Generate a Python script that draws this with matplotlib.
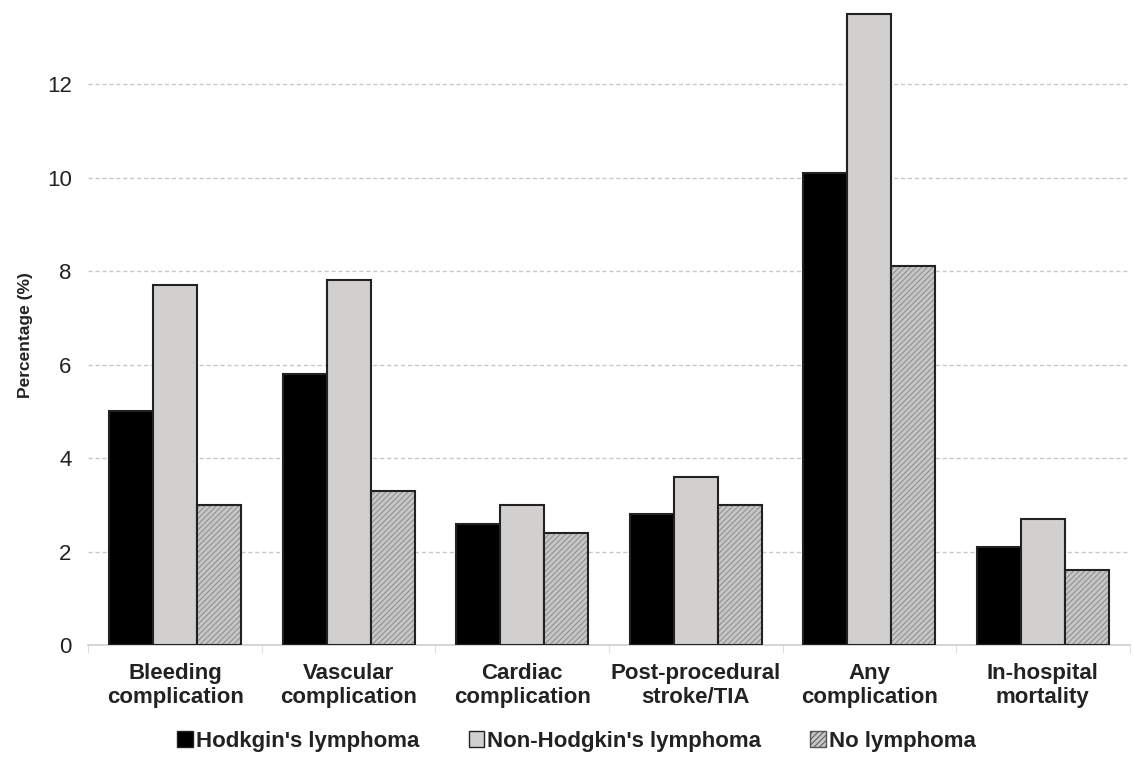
import numpy as np
import matplotlib
matplotlib.use("Agg")
import matplotlib.pyplot as plt
from matplotlib.patches import Patch

plt.rcParams['font.family'] = ['Liberation Sans', 'DejaVu Sans']
plt.rcParams['hatch.linewidth'] = 0.7

# outcome categories and rates (%) per group
categories = ["Bleeding\ncomplication", "Vascular\ncomplication", "Cardiac\ncomplication",
              "Post-procedural\nstroke/TIA", "Any\ncomplication", "In-hospital\nmortality"]
hodgkin = [5.0, 5.8, 2.6, 2.8, 10.1, 2.1]
non_hodgkin = [7.7, 7.8, 3.0, 3.6, 13.5, 2.7]
no_lymphoma = [3.0, 3.3, 2.4, 3.0, 8.1, 1.6]
series_names = ["Hodkgin's lymphoma", "Non-Hodgkin's lymphoma", "No lymphoma"]
yticks = [0, 2, 4, 6, 8, 10, 12]

fig = plt.figure(figsize=(11.33, 7.58), dpi=100)
ax = fig.add_axes([0.078, 0.149, 0.919, 0.845])

x = np.arange(len(categories))
w = 0.253

ax.bar(x - w, hodgkin, w, color="black", edgecolor="#222222", linewidth=1.5, zorder=3)
ax.bar(x, non_hodgkin, w, color="#d2cfcf", edgecolor="#222222", linewidth=1.5, zorder=3)
# hatched bars: hatch layer first, then the dark outline
ax.bar(x + w, no_lymphoma, w, color="#c6c6c6", edgecolor="#8c8c8c", hatch="//////",
       linewidth=0, zorder=3)
ax.bar(x + w, no_lymphoma, w, fill=False, edgecolor="#222222", linewidth=1.5, zorder=4)

ax.set_xlim(-0.5, len(categories) - 0.5)
ax.set_ylim(0, 13.7)
ax.set_yticks(yticks)
ax.tick_params(axis="y", length=0, labelsize=16, pad=12, colors="#222222")
ax.set_xticks(x)
ax.set_xticklabels(categories, fontsize=16, fontweight="bold", color="#222222",
                   linespacing=1.15)
ax.set_xticks(np.arange(len(categories) + 1) - 0.5, minor=True)
ax.tick_params(axis="x", which="major", length=0, pad=13)
ax.tick_params(axis="x", which="minor", length=6, color="#d8d8d8")

ax.grid(axis="y", color="#c8c8c8", linestyle=(0, (3, 2)), linewidth=1, zorder=0)
for s in ["top", "right", "left"]:
    ax.spines[s].set_visible(False)
ax.spines["bottom"].set_color("#cfcfcf")
ax.spines["bottom"].set_linewidth(1.2)

ax.set_ylabel("Percentage (%)", fontsize=12.5, fontweight="bold", color="#222222")
ax.yaxis.set_label_coords(-0.053, 0.484)

handles = [Patch(facecolor="black", edgecolor="#222222"),
           Patch(facecolor="#d2cfcf", edgecolor="#222222"),
           Patch(facecolor="#c6c6c6", edgecolor="#555555", hatch="//////")]
fig.legend(handles, series_names, loc="center", bbox_to_anchor=(0.509, 0.022), ncol=3,
           frameon=False, prop={"weight": "bold", "size": 16},
           handlelength=0.7, handleheight=0.7, handletextpad=0.15, columnspacing=2.2,
           labelcolor="#222222")

fig.savefig("out.png", dpi=100)
